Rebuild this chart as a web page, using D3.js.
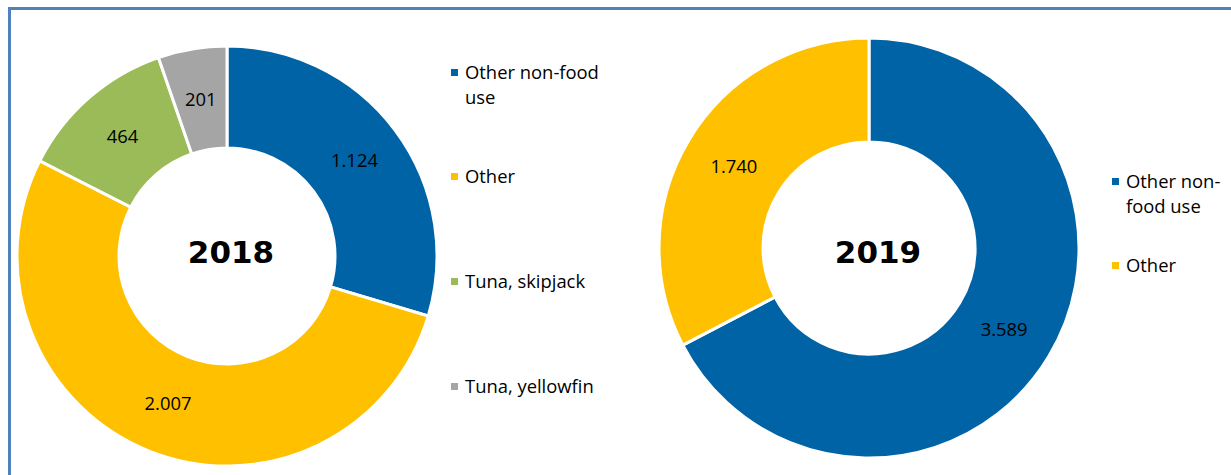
<!DOCTYPE html>
<html>
<head>
<meta charset="utf-8">
<script src="https://cdn.jsdelivr.net/npm/d3@7"></script>
<style>
  html, body { margin: 0; padding: 0; background: #fff; }
  svg { display: block; }
  text { font-family: "Open Sans", "Noto Sans", sans-serif; fill: #000; }
</style>
</head>
<body>
<svg id="chart" width="1231" height="475"></svg>
<script>
// Utilisation by category (tonnes)
const categories2018 = ["Other non-food use", "Other", "Tuna, skipjack", "Tuna, yellowfin"];
const values2018 = [1124, 2007, 464, 201];
const labels2018 = ["1.124", "2.007", "464", "201"];

const categories2019 = ["Other non-food use", "Other"];
const values2019 = [3589, 1740];
const labels2019 = ["3.589", "1.740"];

const colorByCategory = {
  "Other non-food use": "#0063a6",
  "Other": "#ffc000",
  "Tuna, skipjack": "#9bbb59",
  "Tuna, yellowfin": "#a5a5a5"
};

const svg = d3.select("#chart");

// frame
svg.append("rect")
  .attr("x", 9.5).attr("y", 8.5)
  .attr("width", 1240).attr("height", 480)
  .attr("fill", "none")
  .attr("stroke", "#4f81bd")
  .attr("stroke-width", 3);

function doughnut(cfg) {
  const g = svg.append("g").attr("transform", `translate(${cfg.cx},${cfg.cy})`);
  const data = cfg.categories.map((c, i) => ({ cat: c, value: cfg.values[i], label: cfg.labels[i] }));
  const pie = d3.pie().sort(null).value(d => d.value);
  const arc = d3.arc().innerRadius(cfg.inner).outerRadius(cfg.outer);
  const arcs = pie(data);

  g.selectAll("path.slice").data(arcs).join("path")
    .attr("class", "slice")
    .attr("d", arc)
    .attr("fill", d => colorByCategory[d.data.cat])
    .attr("stroke", "#fff")
    .attr("stroke-width", 3)
    .attr("stroke-linejoin", "miter");

  g.selectAll("text.val").data(arcs).join("text")
    .attr("class", "val")
    .attr("transform", d => `translate(${arc.centroid(d)})`)
    .attr("text-anchor", "middle")
    .attr("dy", "0.35em")
    .style("font-size", "18.4px")
    .text(d => d.data.label);

  g.append("text")
    .attr("x", cfg.titleDx).attr("y", cfg.titleDy)
    .attr("text-anchor", "middle")
    .attr("dy", "0.35em")
    .style("font-family", "'DejaVu Sans', sans-serif")
    .style("font-weight", "bold")
    .style("font-size", "31px")
    .text(cfg.title);

  // legend
  const lg = svg.append("g");
  cfg.legend.forEach(item => {
    lg.append("rect")
      .attr("x", cfg.legendX).attr("y", item.y - 4)
      .attr("width", 7).attr("height", 7)
      .attr("fill", colorByCategory[item.cat]);
    const t = lg.append("text")
      .attr("x", cfg.legendX + 14).attr("y", item.y)
      .style("font-size", "18.4px");
    item.lines.forEach((ln, k) => {
      t.append("tspan").attr("x", cfg.legendX + 14).attr("dy", k === 0 ? "0.35em" : "25px").text(ln);
    });
  });
}

doughnut({
  cx: 227, cy: 256, outer: 210, inner: 108,
  categories: categories2018, values: values2018, labels: labels2018,
  title: "2018", titleDx: 4, titleDy: -4,
  legendX: 451,
  legend: [
    { cat: categories2018[0], y: 73, lines: ["Other non-food", "use"] },
    { cat: categories2018[1], y: 177, lines: ["Other"] },
    { cat: categories2018[2], y: 282, lines: ["Tuna, skipjack"] },
    { cat: categories2018[3], y: 387, lines: ["Tuna, yellowfin"] }
  ]
});

doughnut({
  cx: 869, cy: 248, outer: 210, inner: 106,
  categories: categories2019, values: values2019, labels: labels2019,
  title: "2019", titleDx: 9, titleDy: 4,
  legendX: 1112,
  legend: [
    { cat: categories2019[0], y: 182, lines: ["Other non-", "food use"] },
    { cat: categories2019[1], y: 266, lines: ["Other"] }
  ]
});
</script>
</body>
</html>
